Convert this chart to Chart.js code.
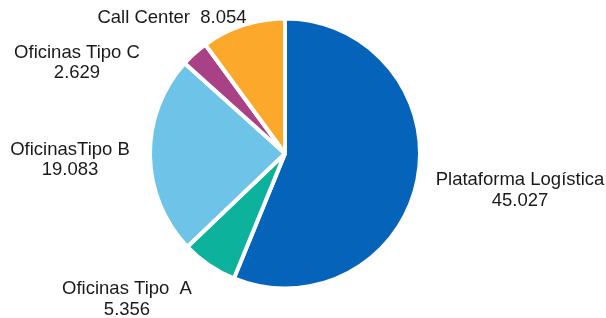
<!DOCTYPE html>
<html>
<head>
<meta charset="utf-8">
<script src="https://cdn.jsdelivr.net/npm/chart.js@4/dist/chart.umd.min.js"></script>
<style>
  html, body { margin: 0; padding: 0; background: #fff; }
  #wrap { width: 606px; height: 318px; position: relative; }
</style>
</head>
<body>
<div id="wrap"><canvas id="pie"></canvas></div>
<script>
/* data */
const categories = ['Plataforma Logística', 'Oficinas Tipo  A', 'OficinasTipo B', 'Oficinas Tipo C', 'Call Center'];
const values = [45027, 5356, 19083, 2629, 8054];
const valueLabels = ['45.027', '5.356', '19.083', '2.629', '8.054'];

const colors = ['#0564B9', '#0CB29B', '#6DC3E8', '#A84185', '#FCA92B'];

/* label placement: offset of the text centre/baseline from the pie centre */
const labelLayout = [
  { dx: 235, dy: 31.5, oneLine: false },
  { dx: -158, dy: 140.5, oneLine: false },
  { dx: -215, dy: 1, oneLine: false },
  { dx: -208, dy: -96, oneLine: false },
  { dx: -113, dy: -130.5, oneLine: true }
];

const labelPlugin = {
  id: 'sliceLabels',
  afterDatasetsDraw(chart) {
    const ctx = chart.ctx;
    const arcs = chart.getDatasetMeta(0).data;
    if (!arcs.length) return;
    const cx = arcs[0].x, cy = arcs[0].y;
    ctx.save();
    ctx.font = '18.5px "Liberation Sans", Arial, sans-serif';
    ctx.fillStyle = '#1a1a1a';
    ctx.textAlign = 'center';
    ctx.textBaseline = 'alphabetic';
    labelLayout.forEach((l, i) => {
      const x = cx + l.dx, y = cy + l.dy;
      if (l.oneLine) {
        ctx.fillText(categories[i] + '  ' + valueLabels[i], x, y);
      } else {
        ctx.fillText(categories[i], x, y);
        ctx.fillText(valueLabels[i], x, y + 20.5);
      }
    });
    ctx.restore();
  }
};

new Chart(document.getElementById('pie').getContext('2d'), {
  type: 'pie',
  data: {
    labels: categories,
    datasets: [{
      data: values,
      backgroundColor: colors,
      borderColor: '#ffffff',
      borderWidth: 4
    }]
  },
  options: {
    responsive: true,
    maintainAspectRatio: false,
    animation: false,
    layout: { padding: { left: 0, right: 36, top: 16.5, bottom: 27.5 } },
    plugins: {
      legend: { display: false },
      tooltip: { enabled: false }
    }
  },
  plugins: [labelPlugin]
});
</script>
</body>
</html>
